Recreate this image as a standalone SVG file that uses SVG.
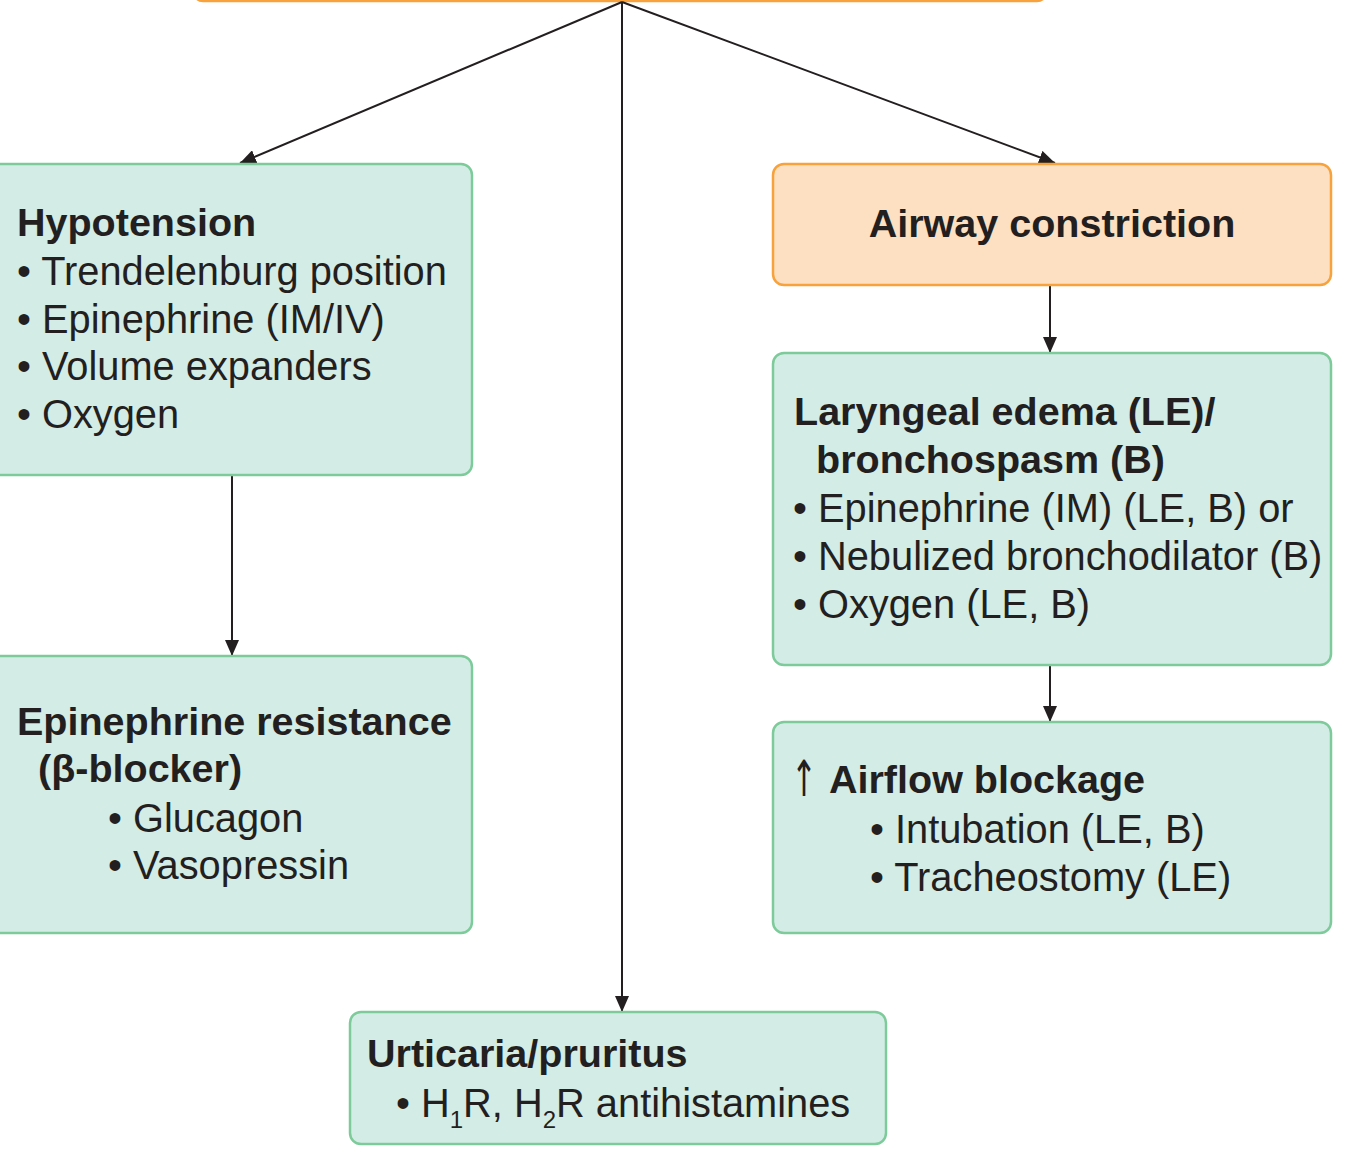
<svg xmlns="http://www.w3.org/2000/svg" width="1353" height="1161" viewBox="0 0 1353 1161">
<style>
.g{fill:#d4ece6;stroke:#7dcb9a;stroke-width:2.5}
.o{fill:#fde0c2;stroke:#f7a23c;stroke-width:2.5}
text{font-family:"Liberation Sans",Arial,Helvetica,sans-serif;font-size:39.8px;fill:#231f20}
.b{font-weight:bold;font-size:39.5px}
.c{stroke:#231f20;stroke-width:2;fill:none;marker-end:url(#ah)}
</style>
<defs>
<marker id="ah" viewBox="0 0 16 14" refX="16" refY="7" markerWidth="16" markerHeight="14" orient="auto" markerUnits="userSpaceOnUse">
<path d="M0,0 L16,7 L0,14 z" fill="#231f20"/>
</marker>
</defs>
<g id="top"><rect class="o" x="193" y="-60" width="854" height="61" rx="10"/></g>
<g id="connectors">
<line class="c" x1="622" y1="2" x2="240" y2="163"/>
<line class="c" x1="622" y1="2" x2="1055" y2="163"/>
<line class="c" x1="622" y1="2" x2="622" y2="1012"/>
<line class="c" x1="232" y1="476" x2="232" y2="656"/>
<line class="c" x1="1050" y1="286" x2="1050" y2="353"/>
<line class="c" x1="1050" y1="666" x2="1050" y2="722"/>
</g>
<g id="hypotension">
<rect class="g" x="-10" y="164" width="482" height="311" rx="11"/>
<text class="b" x="17" y="236">Hypotension</text>
<text x="17" y="285">• Trendelenburg position</text>
<text x="17" y="333">• Epinephrine (IM/IV)</text>
<text x="17" y="380">• Volume expanders</text>
<text x="17" y="428">• Oxygen</text>
</g>
<g id="epi-resistance">
<rect class="g" x="-10" y="656" width="482" height="277" rx="11"/>
<text class="b" x="17" y="735">Epinephrine resistance</text>
<text class="b" x="38" y="782">(β-blocker)</text>
<text x="108" y="832">• Glucagon</text>
<text x="108" y="879">• Vasopressin</text>
</g>
<g id="airway">
<rect class="o" x="773" y="164" width="558" height="121" rx="11"/>
<text class="b" x="1052" y="237" text-anchor="middle">Airway constriction</text>
</g>
<g id="laryngeal">
<rect class="g" x="773" y="353" width="558" height="312" rx="11"/>
<text class="b" x="794" y="425">Laryngeal edema (LE)/</text>
<text class="b" x="816" y="473">bronchospasm (B)</text>
<text x="793" y="522">• Epinephrine (IM) (LE, B) or</text>
<text x="793" y="570">• Nebulized bronchodilator (B)</text>
<text x="793" y="618">• Oxygen (LE, B)</text>
</g>
<g id="airflow">
<rect class="g" x="773" y="722" width="558" height="211" rx="11"/>
<text x="791" y="796" style="font-family:'DejaVu Sans',sans-serif;font-size:50px;font-weight:normal" textLength="26" lengthAdjust="spacingAndGlyphs">↑</text>
<text class="b" x="829" y="793">Airflow blockage</text>
<text x="870" y="843">• Intubation (LE, B)</text>
<text x="870" y="891">• Tracheostomy (LE)</text>
</g>
<g id="urticaria">
<rect class="g" x="350" y="1012" width="536" height="132" rx="11"/>
<text class="b" x="367" y="1067">Urticaria/pruritus</text>
<text x="396" y="1117">• H<tspan font-size="24" dy="11">1</tspan><tspan dy="-11">R, H</tspan><tspan font-size="24" dy="11">2</tspan><tspan dy="-11">R antihistamines</tspan></text>
</g>
</svg>
